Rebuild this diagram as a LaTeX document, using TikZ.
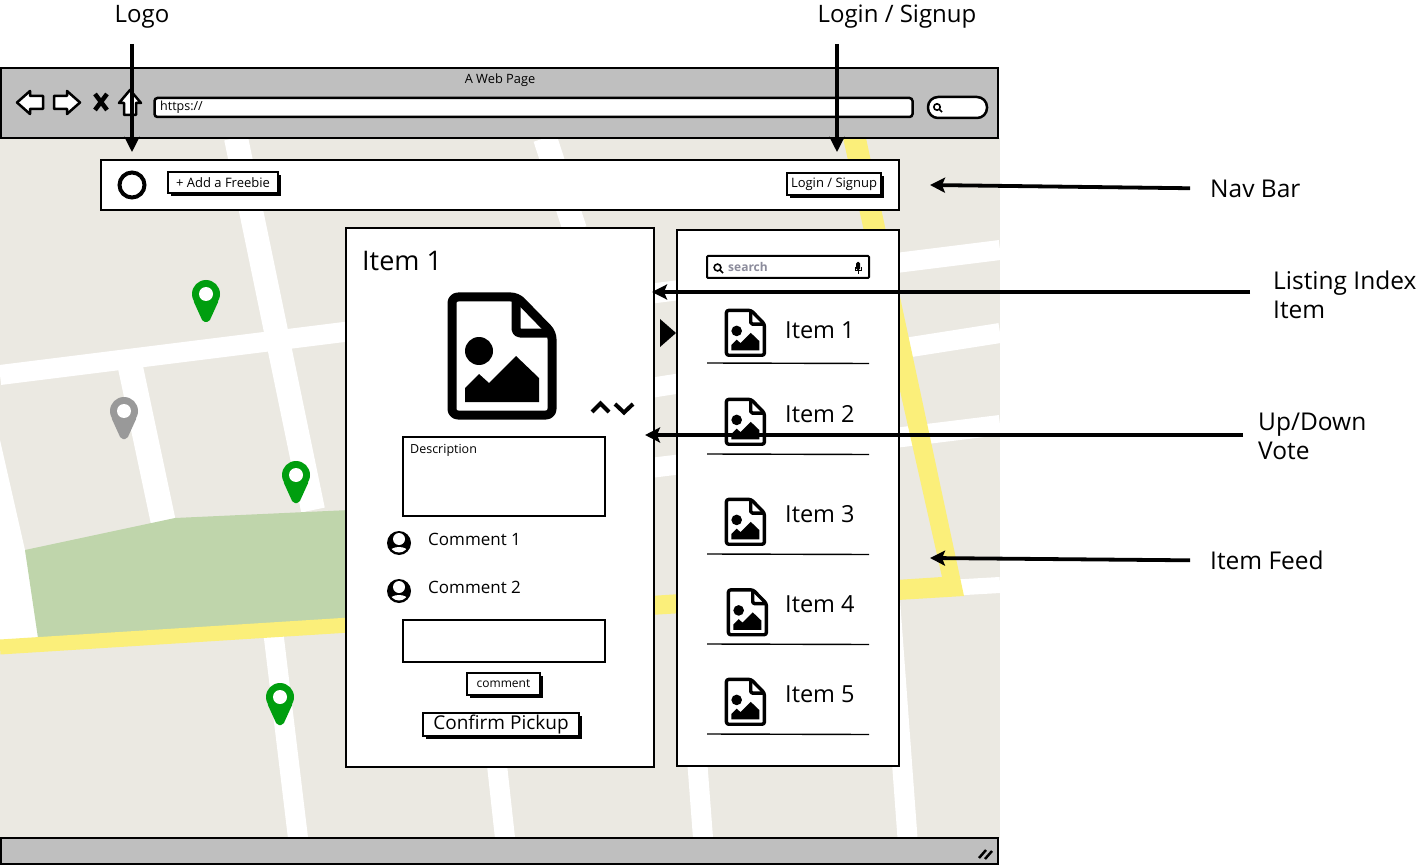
\documentclass[tikz,border=0pt]{standalone}
\usepackage{fontspec}
\setmainfont{Open Sans}
\usetikzlibrary{calc,positioning,arrows.meta,shadows}

\definecolor{mapbg}{HTML}{EBE9E2}
\definecolor{mappark}{HTML}{BFD5AB}
\definecolor{mapmain}{HTML}{FBEF7A}
\definecolor{barfill}{HTML}{BFBFBF}
\definecolor{pingreen}{HTML}{009E0F}
\definecolor{pingrey}{HTML}{999999}
\definecolor{hintgrey}{HTML}{8C8C9C}

\tikzset{
  road/.style={draw=white,line width=#1},
  wirebox/.style 2 args={draw,fill=white,line width=2pt,rectangle,inner sep=0pt,minimum width=#1pt,minimum height=#2pt},
  barbox/.style 2 args={wirebox={#1}{#2},fill=barfill},
  shadowbox/.style 2 args={wirebox={#1}{#2},drop shadow={shadow xshift=3pt,shadow yshift=-3pt,opacity=1,fill=black}},
  callout/.style={line width=3.8pt,-{Stealth[length=15pt,width=15pt,inset=3pt]}},
  btnicon/.style={draw,fill=white,line width=2.5pt,line join=round},
  itemlabel/.style={anchor=west,inner sep=0pt,font=\fontsize{23.5}{23.5}\selectfont},
  notelabel/.style={anchor=west,inner sep=0pt,align=left,font=\fontsize{24.5}{29}\selectfont},
  seprule/.style={line width=1.4pt},
}

% pos x, pos y, scale
\newcommand{\imageicon}[3]{
  \begin{scope}[shift={(#1,#2)},scale=#3]
    \draw[fill=white,line width=#3*9pt,line join=round,rounded corners=#3*6pt] (5,5) -- (70,5) -- (105,41) -- (105,123) -- (5,123) -- cycle;
    \draw[line width=#3*9pt,line join=round] (69,5) -- (69,36) [rounded corners=#3*4pt] -- (69,41) -- (105,41);
    \fill (32,59) circle (14);
    \fill (18,110) -- (18,96) -- (32,82) -- (42,91) -- (69,64) -- (92,86) -- (92,110) -- cycle;
  \end{scope}
}

\begin{document}
\begin{tikzpicture}[x=1pt,y=-1pt]
  \useasboundingbox (0,0) rectangle (1423,866);

  % the map behind the page
  \fill[mapbg] (0,138) rectangle (1000,838);
  \begin{scope}
    \clip (0,138) rectangle (1000,838);
    \draw[road=20pt] (0,375) -- (1000,250);
    \draw[road=20pt] (650,388) -- (1000,333);
    \draw[road=20pt] (650,468) -- (1000,425);
    \draw[road=16pt] (650,605) -- (1000,585);
    \draw[road=24pt] (236,138) -- (313,510);
    \draw[road=20pt] (273,630) -- (298,838);
    \draw[road=25pt] (130,365) -- (165,530);
    \draw[road=24pt] (545,138) -- (575,230);
    \draw[road=20pt] (497,765) -- (505,838);
    \draw[road=20pt] (685,600) -- (703,838);
    \draw[road=20pt] (890,600) -- (907.5,838);
    \fill[white] (0,440) -- (25,550) -- (40,640) -- (0,640) -- cycle;
    \fill[mappark] (25,550) -- (175,518) -- (350,510) -- (350,620) -- (38,638) -- cycle;
    \draw[mapmain,line width=15pt] (0,647) -- (350,625);
    \fill[mapmain] (843,138) -- (866,138) -- (964,596) -- (650,615) -- (650,596) -- (942,577) -- cycle;
  \end{scope}

  \foreach \x/\y/\c in {206/280/pingreen,124/397/pingrey,296/461/pingreen,280/683/pingreen}{
    \fill[\c,rounded corners=2pt] (\x-13,\y+20) -- (\x-3,\y+42) -- (\x+3,\y+42) -- (\x+13,\y+20) -- cycle;
    \fill[\c] (\x,\y+14) circle (14);
    \fill[white] (\x,\y+14) circle (7);
  }

  % browser window
  \node [barbox={997}{70}] at (499.5,103) (browser) {};
  \node [barbox={997}{26}] at (499.5,851) (statusbar) {};
  \node [inner sep=0pt,font=\fontsize{12.8}{13}\selectfont] at (500,80) (page_title) {A Web Page};
  \draw[btnicon] (17,102.5) -- (30,91) -- (30,96) -- (43,96) -- (43,109) -- (30,109) -- (30,114) -- cycle;
  \draw[btnicon] (54,96) -- (67,96) -- (67,91) -- (80,102.5) -- (67,114) -- (67,109) -- (54,109) -- cycle;
  \draw[line width=4.5pt] (95,94) -- (107,110) (107,94) -- (95,110);
  \draw[btnicon] (130,90) -- (141,103) -- (136,103) -- (136,115) -- (124,115) -- (124,103) -- (119,103) -- cycle;
  \node [draw,fill=white,line width=2.5pt,rounded corners=3pt,inner sep=0pt,minimum width=758pt,minimum height=19pt] at (533.5,107.5) (url_bar) {};
  \node [anchor=west,inner sep=0pt,font=\fontsize{12.5}{13}\selectfont] at (160,107.5) (url_text) {https://};
  \node [draw,fill=white,line width=2.5pt,rounded corners=10pt,inner sep=0pt,minimum width=59pt,minimum height=21pt] at (957.5,107.5) (search_pill) {};
  \draw[line width=1.6pt] (937,107) circle (3.2) (939.5,109.5) -- (942,112);
  \draw[line width=2.5pt] (979,858) -- (986,850) (985,859) -- (992,851);

  % nav bar
  \node [wirebox={798}{50}] at (500,185) (nav_bar) {};
  \node [draw,line width=4pt,circle,inner sep=0pt,minimum size=25pt] at (132,185) (logo_dot) {};
  \node [shadowbox={110}{21},font=\fontsize{13}{13}\selectfont] at (223,183) (add_btn) {+ Add a Freebie};
  \node [shadowbox={94}{22},font=\fontsize{13}{13}\selectfont] at (834,184) (login_btn) {Login / Signup\hspace{4pt}};

  % detail panel
  \node [wirebox={308}{539}] at (500,497.5) (detail_panel) {};
  \node [anchor=west,inner sep=0pt,font=\fontsize{27}{27}\selectfont] at (362,260.5) (detail_title) {Item 1};
  \imageicon{447}{292}{1}
  \draw[line width=4pt] (592,412) -- (600.5,403.5) -- (609,412);
  \draw[line width=4pt] (615,404) -- (624,412.5) -- (633,404);
  \node [wirebox={202}{79}] at (504,476.5) (desc_box) {};
  \node [anchor=west,inner sep=0pt,font=\fontsize{12.5}{13}\selectfont] at (410,450) (desc_text) {Description};
  \foreach \y/\n in {543/1,591/2}{
    \fill (399,\y) circle (12);
    \fill[white] (399,\y-4) circle (6);
    \begin{scope}
      \clip (399,\y) circle (9.5);
      \fill[white] (399,\y+10) ellipse (10 and 6);
    \end{scope}
    \node [anchor=west,inner sep=0pt,font=\fontsize{17}{17}\selectfont] at (428,\y-4) (comment_\n) {Comment \n};
  }
  \node [wirebox={202}{42}] at (504,641) (comment_box) {};
  \node [shadowbox={73}{22},font=\fontsize{12}{12}\selectfont] at (503.5,683.5) (comment_btn) {comment};
  \node [shadowbox={156}{23},font=\fontsize{19}{19}\selectfont] at (501,724.5) (confirm_btn) {Confirm Pickup};

  % item feed
  \fill (660,319) -- (676,333) -- (660,347) -- cycle;
  \node [wirebox={222}{536}] at (788,498) (feed_panel) {};
  \node [draw,fill=white,line width=2pt,rounded corners=1pt,inner sep=0pt,minimum width=162pt,minimum height=22pt] at (788,267) (search_box) {};
  \draw[line width=1.6pt] (717.5,267.5) circle (3.4) (720,270) -- (723,273);
  \node [anchor=west,inner sep=0pt,text=hintgrey,font=\bfseries\fontsize{12}{12}\selectfont] at (728,267) (search_hint) {search};
  \fill[rounded corners=1.5pt] (856,262) rectangle (860,270);
  \draw[line width=1pt] (855,267) -- (855,271) -- (861,271) -- (861,267) (858,271) -- (858,274);
  \foreach \n/\t/\ix/\i/\l in {1/330/724.5/308.5/363,2/414/724.5/397.5/454,3/514/724.5/497.5/554,4/604/726.5/588/644,5/694/724.5/677.5/734}{
    \imageicon{\ix}{\i}{0.38}
    \node [itemlabel] at (785,\t) (item_\n) {Item \n};
    \draw[seprule] (707,\l) -- (869,\l+0.5);
  }

  % notes on the right and on top
  \node [inner sep=0pt,font=\fontsize{24}{24}\selectfont] at (142,17) (note_logo) {Logo};
  \node [inner sep=0pt,font=\fontsize{24}{24}\selectfont] at (897,17) (note_login) {Login / Signup};
  \node [notelabel] at (1210,188.5) (note_nav) {Nav Bar};
  \node [notelabel] at (1273,294.5) (note_index) {Listing Index\\Item};
  \node [notelabel] at (1258,436.5) (note_vote) {Up/Down\\Vote};
  \node [notelabel] at (1210,560.5) (note_feed) {Item Feed};

  \coordinate (logo_start) at (132,44);
  \coordinate (logo_tip) at (132,152);
  \coordinate (login_start) at (837,44);
  \coordinate (login_tip) at (837,152);
  \coordinate (nav_tip) at (930,185);
  \coordinate (index_tip) at (652,292);
  \coordinate (vote_tip) at (645,435);
  \coordinate (feed_tip) at (930,558);

  \draw[callout] (logo_start) -- (logo_tip);
  \draw[callout] (login_start) -- (login_tip);
  \draw[callout,shorten <=20pt] (note_nav.west) -- (nav_tip);
  \draw[callout,shorten <=23pt] (note_index.west |- index_tip) -- (index_tip);
  \draw[callout,shorten <=15pt] (note_vote.west |- vote_tip) -- (vote_tip);
  \draw[callout,shorten <=20pt] (note_feed.west) -- (feed_tip);
\end{tikzpicture}
\end{document}
